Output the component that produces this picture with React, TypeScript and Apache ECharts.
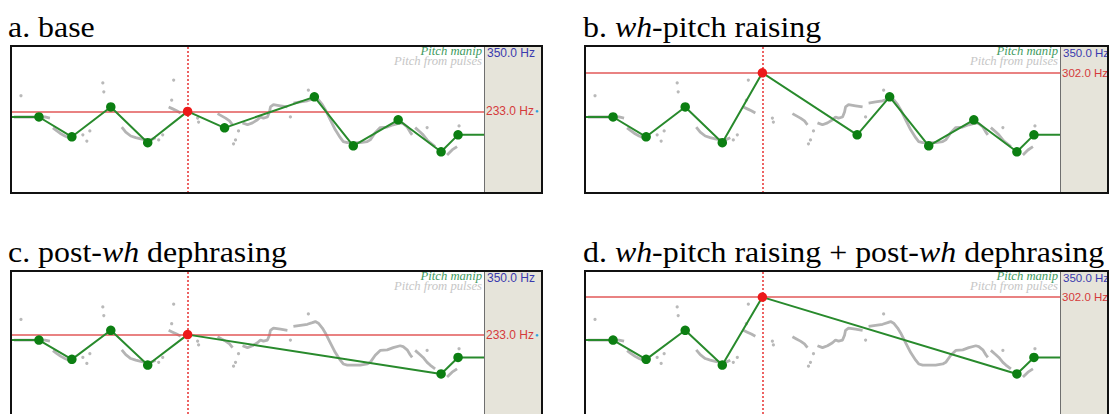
import React, { useEffect, useRef } from 'react';
import * as echarts from 'echarts';

// ---- axis ranges ----
const T_MAX = 2.365; // seconds shown in the pitch window
const HZ_MIN = 87;
const HZ_MAX = 350;

// ---- panel titles ([text, italic]) ----
const titleA: [string, boolean][] = [['a. base', false]];
const titleB: [string, boolean][] = [['b. ', false], ['wh', true], ['-pitch raising', false]];
const titleC: [string, boolean][] = [['c. post-', false], ['wh', true], [' dephrasing', false]];
const titleD: [string, boolean][] = [
  ['d. ', false], ['wh', true], ['-pitch raising + post-', false], ['wh', true], [' dephrasing', false],
];

// ---- manipulation (green) pitch points: time (s), Hz ----
const baseTimes = [0.135, 0.30, 0.495, 0.68, 0.88, 1.065, 1.515, 1.71, 1.935, 2.15, 2.235];
const baseHz = [223, 187.5, 241, 177, 233, 203.6, 259, 171.4, 218, 160.7, 191];
const raisedTimes = [0.135, 0.30, 0.495, 0.68, 0.88, 1.353, 1.515, 1.71, 1.935, 2.15, 2.235];
const raisedHz = [223, 187.5, 241, 177, 302, 191, 259, 171.4, 218, 160.7, 191];
const dephrasedTimes = [0.135, 0.30, 0.495, 0.68, 0.88, 2.15, 2.235];
const dephrasedHz = [223, 187.5, 241, 177, 233, 160.7, 191];
const bothTimes = [0.135, 0.30, 0.495, 0.68, 0.88, 2.15, 2.235];
const bothHz = [223, 187.5, 241, 177, 302, 160.7, 191];
const selectedIndex = 4; // the red (selected) point

// ---- pitch from pulses (gray): contiguous stretches [t, Hz] ----
const pulseSeg1 = [[0.01, 223], [0.09, 223], [0.165, 223], [0.19, 221]];
const pulseSeg2 = [[0.205, 203.6], [0.225, 198], [0.245, 193], [0.265, 189], [0.285, 186]];
const pulseSeg3 = [[0.55, 205], [0.57, 196], [0.595, 189], [0.62, 186], [0.645, 184], [0.67, 182], [0.695, 182], [0.72, 186]];
const pulseSeg4 = [[0.785, 241], [0.805, 237.5], [0.825, 234], [0.845, 230]];
const pulseSeg5 = [[1.03, 229], [1.05, 225], [1.07, 221], [1.09, 216], [1.105, 209]];
const pulseSeg6 = [[1.155, 212.5], [1.18, 209], [1.205, 212.5], [1.23, 218], [1.245, 223], [1.26, 221], [1.28, 223], [1.29, 232], [1.295, 241], [1.31, 245], [1.345, 243], [1.38, 241]];
const pulseSeg7 = [[1.41, 248], [1.445, 250], [1.48, 252], [1.505, 255], [1.52, 257], [1.535, 254], [1.555, 245], [1.57, 236], [1.595, 218], [1.62, 200], [1.645, 186], [1.66, 179], [1.68, 177], [1.71, 177], [1.745, 177], [1.78, 179], [1.795, 182], [1.82, 195], [1.845, 204], [1.88, 205], [1.91, 209], [1.945, 212.5], [1.96, 211], [1.98, 205], [1.995, 196], [2.005, 191]];
const pulseSeg8 = [[2.02, 204], [2.045, 196], [2.06, 191], [2.08, 182], [2.095, 177], [2.12, 170]];
const pulseSeg9 = [[2.18, 155], [2.205, 164], [2.23, 170]];
const pulseDots = [[0.045, 261], [0.355, 191], [0.375, 180], [0.39, 198], [0.455, 284], [0.46, 268], [0.735, 182], [0.755, 191], [0.80, 253], [0.81, 289], [0.93, 221], [0.935, 214], [1.12, 182], [1.11, 175], [1.135, 198], [1.395, 223], [1.485, 271], [2.08, 204], [2.24, 207]];
const pulseSegments = [pulseSeg1, pulseSeg2, pulseSeg3, pulseSeg4, pulseSeg5, pulseSeg6, pulseSeg7, pulseSeg8, pulseSeg9];

// ---- panel layout (pixels) ----
const layouts = [
  { left: 11, top: 46, plotW: 473, grayW: 58, h: 147, grayH: 147, titleX: 8, titleY: 27 },
  { left: 585, top: 46, plotW: 475, grayW: 48, h: 147, grayH: 147, titleX: 583, titleY: 27 },
  { left: 11, top: 271, plotW: 473, grayW: 58, h: 147, grayH: 147, titleX: 8, titleY: 252 },
  { left: 585, top: 271, plotW: 475, grayW: 48, h: 147, grayH: 147, titleX: 583, titleY: 252 },
];

const panels = [
  { title: titleA, times: baseTimes, hz: baseHz },
  { title: titleB, times: raisedTimes, hz: raisedHz },
  { title: titleC, times: dephrasedTimes, hz: dephrasedHz },
  { title: titleD, times: bothTimes, hz: bothHz },
];

const SERIF = '"Liberation Serif", "Times New Roman", serif';
const SANS = '"Liberation Sans", Arial, sans-serif';
const RED_LINE = '#e25858';

function buildOption() {
  const grid: any[] = [];
  const xAxis: any[] = [];
  const yAxis: any[] = [];
  const series: any[] = [];
  const graphic: any[] = [];

  panels.forEach((p, i) => {
    const L = layouts[i];
    grid.push({ left: L.left + 1, top: L.top, width: L.plotW - 1, height: L.h });
    xAxis.push({ type: 'value', gridIndex: i, min: 0, max: T_MAX, show: false });
    yAxis.push({ type: 'value', gridIndex: i, min: HZ_MIN, max: HZ_MAX, show: false });

    // pitch from pulses
    pulseSegments.forEach((seg) => {
      series.push({
        type: 'line', xAxisIndex: i, yAxisIndex: i, data: seg, symbol: 'none', silent: true,
        lineStyle: { color: '#b4b4b4', width: 2.8 }, z: 1,
      });
    });
    series.push({
      type: 'scatter', xAxisIndex: i, yAxisIndex: i, data: pulseDots, symbolSize: 3.2, silent: true,
      itemStyle: { color: '#a8a8a8' }, z: 1,
    });

    // manipulation tier
    const redT = p.times[selectedIndex];
    const redHz = p.hz[selectedIndex];
    const data: any[] = [];
    data.push({ value: [0, p.hz[0]], symbol: 'none' });
    p.times.forEach((t, k) => {
      if (k === selectedIndex) data.push({ value: [t, p.hz[k]], itemStyle: { color: '#ec1a1a' } });
      else data.push({ value: [t, p.hz[k]] });
    });
    data.push({ value: [T_MAX, p.hz[p.hz.length - 1]], symbol: 'none' });

    const wide = L.grayW > 50;
    series.push({
      type: 'line', xAxisIndex: i, yAxisIndex: i, data, symbol: 'circle', symbolSize: 9.5,
      itemStyle: { color: '#0c7f12' }, lineStyle: { color: '#288a2c', width: 2 }, z: 3,
      markLine: {
        silent: true, symbol: ['none', 'none'], z: 2,
        lineStyle: { color: RED_LINE, width: 1.5, type: 'solid', opacity: 1 },
        data: [
          {
            yAxis: redHz,
            lineStyle: { color: RED_LINE, width: 1.5, type: 'solid', opacity: 1 },
            label: {
              show: true, position: 'end', distance: 2,
              formatter: wide ? `{v|${redHz.toFixed(1)} Hz}{d|●}` : `{v|${redHz.toFixed(1)} Hz}`,
              rich: {
                v: { color: '#d53a3a', fontSize: wide ? 12 : 11.5, fontFamily: SANS },
                d: { color: '#2a9fe0', fontSize: 6, padding: [0, 0, 0, 1] },
              },
            },
          },
          {
            xAxis: redT,
            lineStyle: { color: '#e83030', width: 1.5, type: [2, 2], opacity: 1 },
            label: { show: false },
          },
        ],
      },
    });

    // decorations: gray side panel, labels, frame, title
    const grayX = L.left + L.plotW;
    graphic.push({
      type: 'rect', z: 0, silent: true,
      shape: { x: grayX, y: L.top, width: L.grayW, height: L.grayH },
      style: { fill: '#e6e4da' },
    });
    graphic.push({
      type: 'line', z: 5, silent: true,
      shape: { x1: grayX + 0.5, y1: L.top, x2: grayX + 0.5, y2: L.top + L.grayH },
      style: { stroke: '#6f6f6f', lineWidth: 1 },
    });
    graphic.push({
      type: 'text', z: 5, silent: true, x: grayX - 2, y: L.top + 5, scaleX: 1.1,
      style: {
        text: 'Pitch manip', font: `italic 11.5px ${SERIF}`, fill: '#3e9a5e',
        align: 'right', textAlign: 'right', verticalAlign: 'middle', textVerticalAlign: 'middle',
      },
    });
    graphic.push({
      type: 'text', z: 5, silent: true, x: grayX - 2, y: L.top + 15, scaleX: 1.1,
      style: {
        text: 'Pitch from pulses', font: `italic 11.5px ${SERIF}`, fill: '#c6c6c6',
        align: 'right', textAlign: 'right', verticalAlign: 'middle', textVerticalAlign: 'middle',
      },
    });
    graphic.push({
      type: 'text', z: 5, silent: true, x: grayX + 3, y: L.top + 7,
      style: {
        text: `${HZ_MAX.toFixed(1)} Hz`, font: `${wide ? 12 : 11.5}px ${SANS}`, fill: '#3a3aae',
        align: 'left', textAlign: 'left', verticalAlign: 'middle', textVerticalAlign: 'middle',
      },
    });
    graphic.push({
      type: 'rect', z: 10, silent: true,
      shape: { x: L.left, y: L.top, width: L.plotW + L.grayW, height: L.h },
      style: { fill: 'none', stroke: '#111', lineWidth: 2 },
    });
    const rich = {
      n: { fontFamily: SERIF, fontSize: 29, fill: '#000', color: '#000' },
      i: { fontFamily: SERIF, fontSize: 29, fontStyle: 'italic', fill: '#000', color: '#000' },
    };
    graphic.push({
      type: 'text', z: 10, silent: true, x: L.titleX, y: L.titleY, scaleX: 1.1,
      style: {
        text: p.title.map(([t, it]) => `{${it ? 'i' : 'n'}|${t}}`).join(''),
        rich, align: 'left', textAlign: 'left', verticalAlign: 'middle', textVerticalAlign: 'middle',
      },
    });
  });

  return { animation: false, backgroundColor: '#ffffff', grid, xAxis, yAxis, series, graphic };
}

export default function App() {
  const ref = useRef<HTMLDivElement>(null);
  useEffect(() => {
    document.body.style.margin = '0';
    if (!ref.current) return;
    const chart = echarts.init(ref.current, undefined, { renderer: 'svg' });
    chart.setOption(buildOption());
    return () => chart.dispose();
  }, []);
  return <div ref={ref} style={{ width: 1112, height: 414, overflow: 'hidden' }} />;
}
